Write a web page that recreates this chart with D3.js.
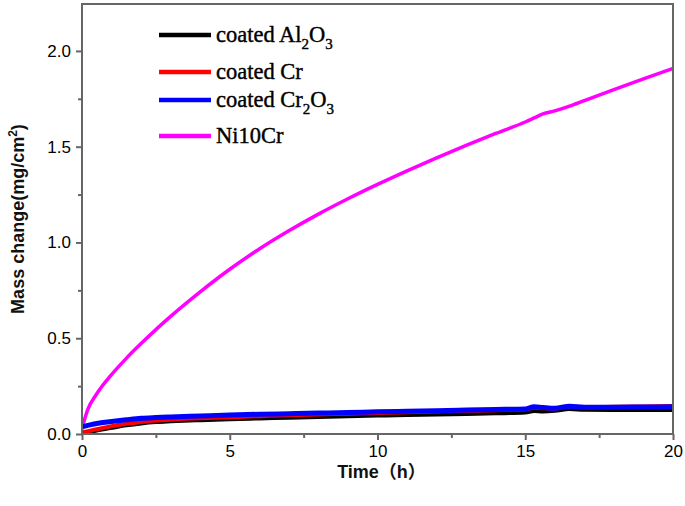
<!DOCTYPE html>
<html><head><meta charset="utf-8">
<script src="https://cdn.jsdelivr.net/npm/d3@7/dist/d3.min.js"></script>
<style>body{margin:0;background:#fff}svg{display:block}</style>
</head><body>
<script>
const time = [0,0.2,0.5,1,1.5,2,2.5,3,4,5,6,7,8,9,10,11,12,13,14,15,15.3,15.6,16,16.5,17,18,19,20];
const ni10cr = [0.03,0.13,0.21,0.31,0.395,0.472,0.545,0.614,0.742,0.86,0.966,1.061,1.148,1.228,1.303,1.374,1.442,1.507,1.569,1.629,1.65,1.671,1.687,1.712,1.741,1.798,1.854,1.909];
const coatedCr2O3 = [0.038,0.045,0.055,0.065,0.074,0.082,0.086,0.089,0.094,0.099,0.103,0.106,0.109,0.112,0.116,0.119,0.122,0.125,0.128,0.131,0.142,0.138,0.134,0.145,0.140,0.140,0.141,0.142];
const coatedCr = [0.01,0.015,0.025,0.04,0.053,0.063,0.07,0.075,0.082,0.088,0.093,0.098,0.102,0.106,0.11,0.114,0.118,0.121,0.124,0.128,0.138,0.134,0.132,0.143,0.140,0.142,0.144,0.146];
const coatedAl2O3 = [0.0,0.008,0.018,0.032,0.045,0.055,0.062,0.066,0.072,0.077,0.081,0.085,0.089,0.093,0.096,0.099,0.102,0.105,0.108,0.112,0.12,0.118,0.121,0.13,0.126,0.125,0.125,0.126];
const seriesNames = ["coated Al2O3","coated Cr","coated Cr2O3","Ni10Cr"];
const seriesColors = ["#000000","#ff0000","#0000ff","#ff00ff"];
const xTicks = [0,5,10,15,20];
const yTicks = [0.0,0.5,1.0,1.5,2.0];

const W=685,H=506;
const m={l:82,r:12,t:4,b:72};
const svg=d3.select("body").append("svg").attr("width",W).attr("height",H);
const x=d3.scaleLinear().domain([0,20]).range([m.l,W-m.r]);
const y=d3.scaleLinear().domain([0,2.245]).range([H-m.b,m.t]);
const axisColor="#666";

svg.append("clipPath").attr("id","clip").append("rect")
  .attr("x",m.l).attr("y",m.t).attr("width",W-m.r-m.l).attr("height",H-m.b-m.t);

const seriesData=[coatedAl2O3,coatedCr,coatedCr2O3,ni10cr];
const widths=[4,4,5,3.5];
const line=d3.line().x((d,i)=>x(time[i])).y(d=>y(d)).curve(d3.curveMonotoneX);
const g=svg.append("g").attr("clip-path","url(#clip)");
[3,0,1,2].forEach(k=>{
  g.append("path").datum(seriesData[k]).attr("d",line)
   .attr("fill","none").attr("stroke",seriesColors[k]).attr("stroke-width",widths[k])
   .attr("stroke-linejoin","round").attr("stroke-linecap","round");
});

// frame
svg.append("rect").attr("x",m.l).attr("y",m.t).attr("width",W-m.r-m.l).attr("height",H-m.b-m.t)
  .attr("fill","none").attr("stroke",axisColor).attr("stroke-width",2);

// axes
const xAxis=svg.append("g").attr("transform",`translate(0,${H-m.b})`)
  .call(d3.axisBottom(x).tickValues(xTicks).tickFormat(d3.format("d")).tickSize(6).tickPadding(4));
const xMinor=svg.append("g").attr("transform",`translate(0,${H-m.b})`)
  .call(d3.axisBottom(x).tickValues([2.5,7.5,12.5,17.5]).tickFormat("").tickSize(4));
const yAxis=svg.append("g").attr("transform",`translate(${m.l},0)`)
  .call(d3.axisLeft(y).tickValues(yTicks).tickFormat(d3.format(".1f")).tickSize(6).tickPadding(5));
const yMinor=svg.append("g").attr("transform",`translate(${m.l},0)`)
  .call(d3.axisLeft(y).tickValues([0.25,0.75,1.25,1.75]).tickFormat("").tickSize(4));
[xAxis,xMinor,yAxis,yMinor].forEach(a=>{
  a.select(".domain").remove();
  a.selectAll("line").attr("stroke",axisColor).attr("stroke-width",2);
  a.selectAll("text").attr("fill","#000").style("font-family","'Liberation Sans',Arial,sans-serif").style("font-size","17px");
});
xAxis.selectAll("text").attr("dy","0.75em");

// axis titles
svg.append("text").attr("x",(m.l+W-m.r)/2+4).attr("y",478).attr("text-anchor","middle")
  .style("font-family","'Liberation Sans','Noto Sans CJK SC',sans-serif").style("font-size","18px").style("font-weight","bold").attr("fill","#111")
  .text("Time（h）");
const yl=svg.append("text").attr("transform",`translate(24,${(m.t+H-m.b)/2}) rotate(-90)`).attr("text-anchor","middle")
  .style("font-family","'Liberation Sans',Arial,sans-serif").style("font-size","18px").style("font-weight","bold").attr("fill","#111");
yl.append("tspan").text("Mass change(mg/cm");
yl.append("tspan").text("2").style("font-size","12px").attr("dy","-7");
yl.append("tspan").text(")").attr("dy","7");

// legend
const legY=[35,72,100,136];
const labelParts=[
  [["coated Al",0],["2",1],["O",0],["3",1]],
  [["coated Cr",0]],
  [["coated Cr",0],["2",1],["O",0],["3",1]],
  [["Ni10Cr",0]]
];
const leg=svg.append("g");
seriesNames.forEach((nm,i)=>{
  leg.append("line").attr("x1",159).attr("x2",211).attr("y1",legY[i]).attr("y2",legY[i])
    .attr("stroke",seriesColors[i]).attr("stroke-width",4.5);
  const t=leg.append("text").attr("x",216).attr("y",legY[i]+7)
    .style("font-family","'Liberation Serif','Times New Roman',serif").style("font-size","22.5px")
    .style("stroke","#000").style("stroke-width","0.4").attr("fill","#000");
  let sub=false;
  labelParts[i].forEach(([s,isSub])=>{
    const ts=t.append("tspan").text(s);
    if(isSub&&!sub){ts.attr("dy","7").style("font-size","15px");sub=true;}
    else if(isSub){ts.style("font-size","15px");}
    else if(!isSub&&sub){ts.attr("dy","-7");sub=false;}
  });
});
</script>
</body></html>
